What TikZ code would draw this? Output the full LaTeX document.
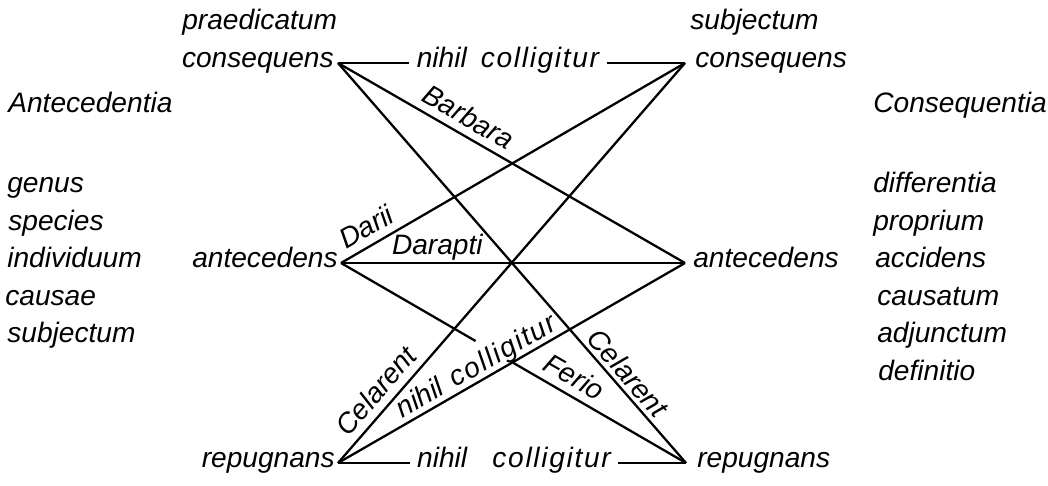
\documentclass[tikz,border=0pt]{standalone}
\usepackage{fontspec}
\setmainfont{Liberation Sans}
\usetikzlibrary{positioning,calc}

% wide lettering for the long word
\newcommand{\wide}[1]{{\addfontfeatures{LetterSpace=6}#1}}

\begin{document}
\begin{tikzpicture}[
    x=0.02cm, y=0.02cm,
    word/.style={font=\itshape\fontsize{16}{19}\selectfont, inner sep=0pt},
    gapword/.style={word, inner xsep=0.14cm, anchor=mid},
    tag/.style={word, sloped, above=5pt, anchor=base},
    link/.style={line width=1.3pt}
]
\useasboundingbox (0,0) rectangle (1048,486);

% Corner points
\coordinate (conL) at (338,423);
\coordinate (conR) at (685,423);
\coordinate (antL) at (341,223);
\coordinate (antR) at (685,223);
\coordinate (repL) at (338,23);
\coordinate (repR) at (686,23);
\coordinate (cutA) at ($(antL)!0.39!(repR)$);
\coordinate (cutB) at ($(antL)!0.5!(repR)$);

% Names at the points
\node[word, mid left=0.08cm of conL]  (tconL) {consequens};
\node[word, mid right=0.2cm of conR]  (tconR) {consequens};
\node[word, mid left=0.06cm of antL]  (tantL) {antecedens};
\node[word, mid right=0.16cm of antR] (tantR) {antecedens};
\node[word, mid left=0.06cm of repL]  (trepL) {repugnans};
\node[word, mid right=0.22cm of repR] (trepR) {repugnans};
\node[word, anchor=mid west] (praed) at (182,461) {praedicatum};
\node[word, anchor=mid west] (subj)  at (690,461) {subjectum};

% Left column
\node[word, anchor=mid west] (antec) at (8,378)   {Antecedentia};
\node[word, anchor=mid west] (genus) at (7,298)   {genus};
\node[word, anchor=mid west] (spec)  at (8,260.5) {species};
\node[word, anchor=mid west] (indiv) at (7,223)   {individuum};
\node[word, anchor=mid west] (caus)  at (5,185.5) {causae};
\node[word, anchor=mid west] (subjL) at (7,148)   {subjectum};

% Right column
\node[word, anchor=mid west] (conseq) at (873,378)   {Consequentia};
\node[word, anchor=mid west] (diff)   at (873,298)   {differentia};
\node[word, anchor=mid west] (propr)  at (873,260.5) {proprium};
\node[word, anchor=mid west] (accid)  at (875,223)   {accidens};
\node[word, anchor=mid west] (causat) at (877,185.5) {causatum};
\node[word, anchor=mid west] (adj)    at (877,148)   {adjunctum};
\node[word, anchor=mid west] (defin)  at (878,110.5) {definitio};

% Horizontal links
\node[gapword] (nihilT) at (508,423) {nihil\hspace{0.5em}\wide{colligitur}};
\node[gapword] (nihilB) at (514,23)  {nihil\hspace{0.9em}\wide{colligitur}};
\draw[link] (conL) -- (nihilT.mid west);
\draw[link] (nihilT.mid east) -- (conR);
\draw[link] (antL) -- node[tag, pos=0.28] (darapti) {Darapti} (antR);
\draw[link] (repL) -- (nihilB.mid west);
\draw[link] (nihilB.mid east) -- (repR);

% Diagonal links
\draw[link] (conL) -- node[tag, pos=0.35] (barbara) {Barbara} (antR);
\draw[link] (conL) -- node[tag, pos=0.8, above=3pt, anchor=base] (celR) {Celarent} (repR);
\draw[link] (antL) -- node[tag, pos=0.1] (darii) {Darii} (conR);
\draw[link] (antL) -- (cutA);
\draw[link] (cutB) -- node[tag, pos=0.3] (ferio) {Ferio} (repR);
\draw[link] (repL) -- node[tag, pos=0.15] (celL) {Celarent} (conR);
\draw[link] (repL) -- node[tag, pos=0.42, above=3.5pt, anchor=base] (nihilD) {nihil\hspace{0.4em}\wide{colligitur}} (antR);
\end{tikzpicture}
\end{document}
